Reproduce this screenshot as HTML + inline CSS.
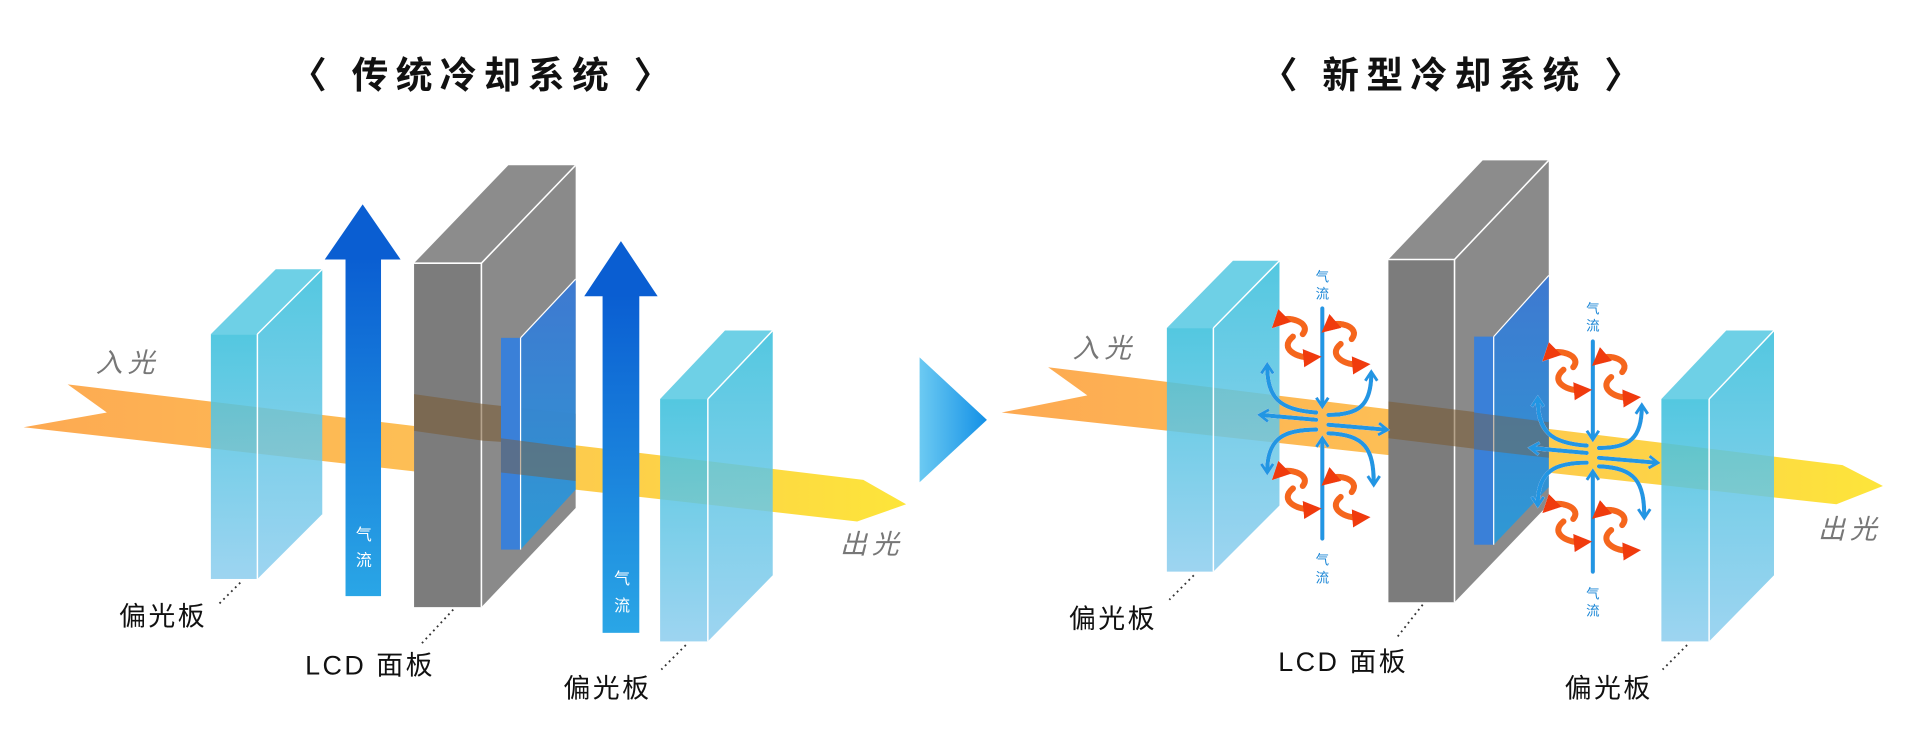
<!DOCTYPE html>
<html><head><meta charset="utf-8"><style>
html,body{margin:0;padding:0;background:#fff;}
svg{display:block;}
text{font-family:"Liberation Sans","Noto Sans CJK SC",sans-serif;}
</style></head><body>
<svg width="1920" height="743" viewBox="0 0 1568 607" xmlns="http://www.w3.org/2000/svg">
<defs>
<linearGradient id="beam" x1="0" y1="0" x2="1" y2="0"><stop offset="0" stop-color="#fda952"/><stop offset="0.45" stop-color="#fdbf55"/><stop offset="1" stop-color="#fde53a"/></linearGradient>
<linearGradient id="pol" x1="0" y1="0" x2="0" y2="1"><stop offset="0" stop-color="#3cc0dc" stop-opacity="0.88"/><stop offset="1" stop-color="#8ccdee" stop-opacity="0.85"/></linearGradient>
<linearGradient id="blueArr" x1="0" y1="0" x2="0" y2="1"><stop offset="0" stop-color="#0a5ed2"/><stop offset="1" stop-color="#2aa6e6"/></linearGradient>
<linearGradient id="tri" x1="0" y1="0" x2="1" y2="0"><stop offset="0" stop-color="#6ccaf2"/><stop offset="1" stop-color="#1390e6"/></linearGradient>
<linearGradient id="panel" x1="0" y1="0" x2="0" y2="1"><stop offset="0" stop-color="#3a78d4" stop-opacity="0.95"/><stop offset="1" stop-color="#2a9ad8" stop-opacity="0.95"/></linearGradient>
<linearGradient id="org" x1="0" y1="0" x2="1" y2="0"><stop offset="0" stop-color="#f7901e"/><stop offset="1" stop-color="#f03a10"/></linearGradient>
<filter id="glow" x="-20%" y="-20%" width="140%" height="140%"><feGaussianBlur in="SourceAlpha" stdDeviation="2"/><feComponentTransfer><feFuncA type="linear" slope="0.8"/></feComponentTransfer><feFlood flood-color="#fff"/><feComposite operator="in" in2="SourceAlpha"/><feMerge><feMergeNode/><feMergeNode in="SourceGraphic"/></feMerge></filter>
<marker id="ah" viewBox="0 0 10 10" refX="6" refY="5" markerWidth="3.6" markerHeight="3.6" orient="auto"><path d="M1,1 L7,5 L1,9" fill="none" stroke="#2196e3" stroke-width="2"/></marker>
<marker id="oh" viewBox="0 0 10 10" refX="5" refY="5" markerWidth="3" markerHeight="3" orient="auto"><path d="M0,0 L10,5 L0,10z" fill="#f03a10"/></marker>
<g id="cluster">
 <g fill="none" stroke="#2196e3" stroke-width="3.4" stroke-linecap="round" marker-end="url(#ah)">
  <path d="M0,-93 L0,-14"/>
  <path d="M0,95 L0,14"/>
  <path d="M-5,-2 L-50,-6"/>
  <path d="M5,2 L52,6"/>
  <path d="M-5,-8 C-35,-10 -45,-20 -45,-46"/>
  <path d="M5,-6 C30,-6 40,-14 40,-40"/>
  <path d="M-5,6 C-30,6 -45,12 -45,40"/>
  <path d="M5,9 C35,10 42,22 42,50"/>
 </g>
 <g fill="none" stroke="#f5661a" stroke-width="5" stroke-linecap="round" marker-end="url(#oh)">
  <path d="M-16,-72 C-8,-82 -30,-88 -36,-82"/>
  <path d="M-24,-70 C-36,-60 -20,-52 -8,-53"/>
  <path d="M24,-68 C32,-78 12,-84 5,-78"/>
  <path d="M15,-64 C4,-55 18,-46 32,-47"/>
  <path d="M-16,52 C-8,42 -30,36 -36,42"/>
  <path d="M-24,54 C-36,64 -20,72 -8,71"/>
  <path d="M24,57 C32,47 12,41 5,47"/>
  <path d="M15,61 C4,70 18,79 32,78"/>
 </g>
</g>
</defs>

<!-- titles -->
<text x="395" y="72" font-size="30" font-weight="bold" text-anchor="middle" fill="#111" letter-spacing="6">〈 传统冷却系统 〉</text>
<text x="1188" y="72" font-size="30" font-weight="bold" text-anchor="middle" fill="#111" letter-spacing="6">〈 新型冷却系统 〉</text>

<!-- LEFT DIAGRAM -->
<polygon points="55,314 705,392 740,412 700,426 19,349 87,337" fill="url(#beam)"/>
<polygon points="172,273 225,220 263,220 210,273" fill="#55c8e2" opacity="0.85"/>
<polygon points="210,273 263,220 263,420 210,473" fill="url(#pol)"/>
<rect x="172" y="273" width="38" height="200" fill="url(#pol)"/>
<line x1="210" y1="273" x2="210" y2="473" stroke="#fff" stroke-width="1.2"/>
<line x1="210" y1="273" x2="263" y2="220" stroke="#fff" stroke-width="1.2"/>
<rect x="282" y="210" width="29" height="277" fill="url(#blueArr)"/>
<polygon points="265,212 296,167 327,212" fill="#0a5ed2"/>
<text x="297" y="441" font-size="13" fill="#fff" text-anchor="middle">气</text>
<text x="297" y="462" font-size="13" fill="#fff" text-anchor="middle">流</text>
<polygon points="338,215 415,135 470,135 393,215" fill="#8c8c8c"/>
<polygon points="393,215 470,135 470,415 393,496" fill="#8a8a8a"/>
<rect x="338" y="215" width="55" height="281" fill="#7c7c7c"/>
<polyline points="338,215 393,215 470,135" fill="none" stroke="#fff" stroke-width="1.3"/>
<line x1="393" y1="215" x2="393" y2="496" stroke="#fff" stroke-width="1.3"/>
<polygon points="394,330 470,338 470,365 394,360" fill="#7a5a30" opacity="0.55"/>
<polygon points="338,322 394,330 394,360 338,352" fill="#7a5a30" opacity="0.55"/>
<polygon points="425,276 470,228 470,400 425,449" fill="url(#panel)"/>
<rect x="409" y="276" width="16" height="173" fill="#3a80d8"/>
<line x1="425" y1="276" x2="425" y2="449" stroke="#fff" stroke-width="1"/>
<line x1="425" y1="276" x2="470" y2="228" stroke="#fff" stroke-width="1"/>
<polygon points="409,358 470,366 470,393 409,386" fill="#805a30" opacity="0.45"/>
<rect x="492" y="240" width="30" height="277" fill="url(#blueArr)"/>
<polygon points="477,242 507,197 537,242" fill="#0a5ed2"/>
<text x="508" y="477" font-size="13" fill="#fff" text-anchor="middle">气</text>
<text x="508" y="499" font-size="13" fill="#fff" text-anchor="middle">流</text>
<polygon points="539,326 592,270 631,270 578,326" fill="#55c8e2" opacity="0.85"/>
<polygon points="578,326 631,270 631,470 578,524" fill="url(#pol)"/>
<rect x="539" y="326" width="39" height="198" fill="url(#pol)"/>
<line x1="578" y1="326" x2="578" y2="524" stroke="#fff" stroke-width="1.2"/>
<line x1="578" y1="326" x2="631" y2="270" stroke="#fff" stroke-width="1.2"/>
<text x="78" y="304" font-size="22" fill="#777" font-style="italic" letter-spacing="4">入光</text>
<text x="686" y="452" font-size="22" fill="#777" font-style="italic" letter-spacing="4">出光</text>
<text x="97" y="511" font-size="22" fill="#111" letter-spacing="2">偏光板</text>
<text x="249" y="551" font-size="22" fill="#111" letter-spacing="2">LCD 面板</text>
<text x="460" y="570" font-size="22" fill="#111" letter-spacing="2">偏光板</text>
<g stroke="#333" stroke-width="1.5" stroke-dasharray="1.5,3">
<line x1="196" y1="476" x2="178" y2="494"/>
<line x1="370" y1="498" x2="343" y2="527"/>
<line x1="560" y1="527" x2="540" y2="547"/>
</g>

<polygon points="751,292 806,343 751,394" fill="url(#tri)"/>

<!-- RIGHT DIAGRAM -->
<polygon points="856,300 1505,380 1538,397 1500,412 818,337 888,323" fill="url(#beam)"/>
<polygon points="953,268 1007,213 1045,213 991,268" fill="#55c8e2" opacity="0.85"/>
<polygon points="991,268 1045,213 1045,413 991,467" fill="url(#pol)"/>
<rect x="953" y="268" width="38" height="199" fill="url(#pol)"/>
<line x1="991" y1="268" x2="991" y2="467" stroke="#fff" stroke-width="1.2"/>
<line x1="991" y1="268" x2="1045" y2="213" stroke="#fff" stroke-width="1.2"/>
<polygon points="1134,212 1211,131 1265,131 1188,212" fill="#8c8c8c"/>
<polygon points="1188,212 1265,131 1265,412 1188,492" fill="#8a8a8a"/>
<rect x="1134" y="212" width="54" height="280" fill="#7c7c7c"/>
<polyline points="1134,212 1188,212 1265,131" fill="none" stroke="#fff" stroke-width="1.3"/>
<line x1="1188" y1="212" x2="1188" y2="492" stroke="#fff" stroke-width="1.3"/>
<polygon points="1134,328 1265,344 1265,374 1134,358" fill="#7a5a30" opacity="0.55"/>
<polygon points="1220,275 1265,225 1265,398 1220,445" fill="url(#panel)"/>
<rect x="1204" y="275" width="16" height="170" fill="#3a80d8"/>
<line x1="1220" y1="275" x2="1220" y2="445" stroke="#fff" stroke-width="1"/>
<line x1="1220" y1="275" x2="1265" y2="225" stroke="#fff" stroke-width="1"/>
<polygon points="1204,337 1265,345 1265,374 1204,367" fill="#805a30" opacity="0.4"/>
<polygon points="1357,326 1410,270 1449,270 1396,326" fill="#55c8e2" opacity="0.85"/>
<polygon points="1396,326 1449,270 1449,470 1396,524" fill="url(#pol)"/>
<rect x="1357" y="326" width="39" height="198" fill="url(#pol)"/>
<line x1="1396" y1="326" x2="1396" y2="524" stroke="#fff" stroke-width="1.2"/>
<line x1="1396" y1="326" x2="1449" y2="270" stroke="#fff" stroke-width="1.2"/>
<use href="#cluster" x="1080" y="345" filter="url(#glow)"/>
<use href="#cluster" x="1301" y="372" filter="url(#glow)"/>
<g font-size="11" fill="#1a86d6" text-anchor="middle">
<text x="1080" y="230">气</text><text x="1080" y="244">流</text>
<text x="1080" y="461">气</text><text x="1080" y="476">流</text>
<text x="1301" y="256">气</text><text x="1301" y="270">流</text>
<text x="1301" y="489">气</text><text x="1301" y="503">流</text>
</g>
<text x="876" y="292" font-size="22" fill="#777" font-style="italic" letter-spacing="4">入光</text>
<text x="1485" y="440" font-size="22" fill="#777" font-style="italic" letter-spacing="4">出光</text>
<text x="873" y="513" font-size="22" fill="#111" letter-spacing="2">偏光板</text>
<text x="1044" y="548" font-size="22" fill="#111" letter-spacing="2">LCD 面板</text>
<text x="1278" y="570" font-size="22" fill="#111" letter-spacing="2">偏光板</text>
<g stroke="#333" stroke-width="1.5" stroke-dasharray="1.5,3">
<line x1="975" y1="470" x2="955" y2="490"/>
<line x1="1162" y1="494" x2="1140" y2="522"/>
<line x1="1378" y1="527" x2="1358" y2="547"/>
</g>
</svg>
</body></html>
